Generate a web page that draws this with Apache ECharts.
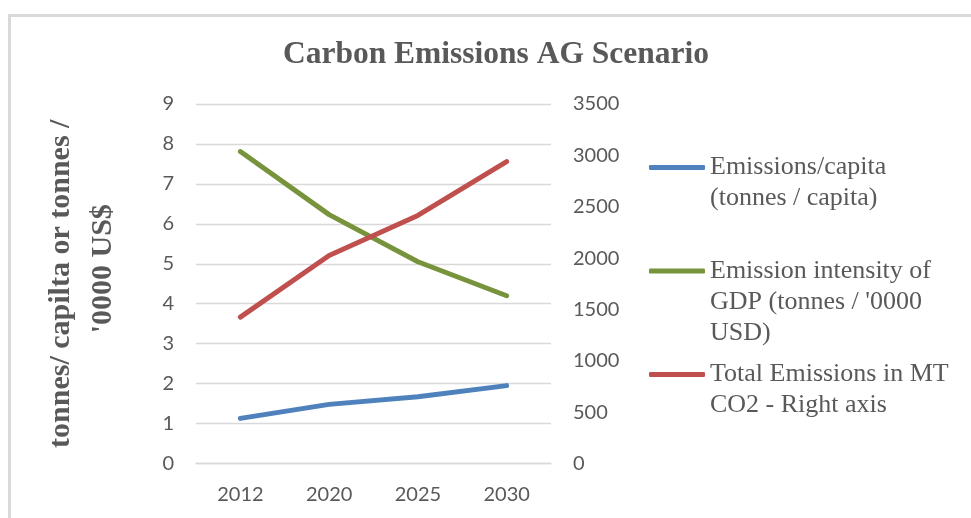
<!DOCTYPE html>
<html>
<head>
<meta charset="utf-8">
<title>Carbon Emissions AG Scenario</title>
<script src="https://cdn.jsdelivr.net/npm/echarts@6/dist/echarts.min.js"></script>
<style>
  html, body { margin: 0; padding: 0; background: #ffffff; }
  #chart { width: 971px; height: 518px; }
</style>
</head>
<body>
<div id="chart"></div>
<script>
// Scenario years
const years = ['2012', '2020', '2025', '2030'];

// Left axis series (tonnes)
const emissionsPerCapita = [1.13, 1.48, 1.67, 1.95];
const emissionIntensity = [7.81, 6.23, 5.05, 4.2];

// Right axis series (MT CO2)
const totalEmissions = [1425, 2025, 2415, 2940];

// Axis ranges
const leftTicks = { min: 0, max: 9, interval: 1 };
const rightTicks = { min: 0, max: 3500, interval: 500 };

const seriesNames = [
  'Emissions/capita\n(tonnes / capita)',
  'Emission intensity of\nGDP (tonnes / \'0000\nUSD)',
  'Total Emissions in MT\nCO2 - Right axis'
];
const seriesColors = ['#4f81bd', '#77933c', '#c0504d'];

const serif = '"Liberation Serif", "Times New Roman", serif';
const sans = 'Lato, Carlito, Calibri, sans-serif';
const grey = '#595959';
const LH = 31;

// One legend block per series; an invisible spacer line on top keeps
// the icon level with the first line of a wrapped label
function legendFor(name, iconCenterY) {
  const lines = name.split('\n').length;
  const pad = (lines - 1) * LH;
  const blockH = pad + lines * LH;
  return {
    data: [name],
    left: 649,
    top: iconCenterY - blockH / 2,
    orient: 'vertical',
    padding: 0,
    icon: 'roundRect',
    itemWidth: 56,
    itemHeight: 5,
    selectedMode: false,
    formatter: function (n) {
      return '{sp| }\n' + n.split('\n').map(function (l) { return '{t|' + l + '}'; }).join('\n');
    },
    textStyle: {
      fontFamily: serif,
      fontSize: 26,
      color: grey,
      rich: {
        sp: { fontSize: 10, height: pad, lineHeight: pad },
        t: { fontFamily: serif, fontSize: 26, color: grey, lineHeight: LH, height: LH }
      }
    }
  };
}

function lineSeries(i, data, yAxisIndex) {
  return {
    name: seriesNames[i],
    type: 'line',
    yAxisIndex: yAxisIndex,
    data: data,
    symbol: 'none',
    smooth: false,
    lineStyle: { color: seriesColors[i], width: 5, cap: 'round', join: 'round' },
    itemStyle: { color: seriesColors[i] }
  };
}

const chart = echarts.init(document.getElementById('chart'), null, { renderer: 'canvas' });

chart.setOption({
  backgroundColor: '#ffffff',
  animation: false,
  graphic: [{
    type: 'rect',
    shape: { x: 9.5, y: 15.5, width: 1100, height: 1100 },
    style: { fill: 'none', stroke: '#d9d9d9', lineWidth: 3 },
    silent: true,
    z: -10
  }],
  title: {
    text: 'Carbon Emissions AG Scenario',
    left: 496,
    textAlign: 'center',
    top: 39,
    padding: 0,
    textStyle: {
      fontFamily: serif,
      fontSize: 31.5,
      fontWeight: 'bold',
      color: grey
    }
  },
  legend: [
    legendFor(seriesNames[0], 167.5),
    legendFor(seriesNames[1], 271),
    legendFor(seriesNames[2], 374.5)
  ],
  grid: {
    left: 196,
    right: 420,
    top: 104,
    bottom: 54.5,
    containLabel: false
  },
  xAxis: {
    type: 'category',
    data: years,
    boundaryGap: true,
    axisLine: { show: true, lineStyle: { color: '#d9d9d9', width: 1.3 } },
    axisTick: { show: false },
    axisLabel: {
      margin: 21,
      fontFamily: sans,
      fontSize: 20,
      color: grey
    }
  },
  yAxis: [
    {
      type: 'value',
      position: 'left',
      min: leftTicks.min,
      max: leftTicks.max,
      interval: leftTicks.interval,
      name: 'tonnes/ capilta or tonnes /\n\u00a0\u00a0\u00a0\u00a0\'0000 US$',
      nameLocation: 'middle',
      nameRotate: 90,
      nameGap: 72,
      nameTextStyle: {
        fontFamily: serif,
        fontSize: 30,
        fontWeight: 'bold',
        color: grey,
        lineHeight: 42,
        align: 'center'
      },
      axisLine: { show: false },
      axisTick: { show: false },
      splitLine: { show: true, lineStyle: { color: '#d9d9d9', width: 1.3 } },
      axisLabel: {
        margin: 22,
        fontFamily: sans,
        fontSize: 20,
        color: grey
      }
    },
    {
      type: 'value',
      position: 'right',
      min: rightTicks.min,
      max: rightTicks.max,
      interval: rightTicks.interval,
      axisLine: { show: false },
      axisTick: { show: false },
      splitLine: { show: false },
      axisLabel: {
        margin: 22,
        fontFamily: sans,
        fontSize: 20,
        color: grey,
        formatter: function (v) { return String(v); }
      }
    }
  ],
  series: [
    lineSeries(0, emissionsPerCapita, 0),
    lineSeries(1, emissionIntensity, 0),
    lineSeries(2, totalEmissions, 1)
  ]
});
</script>
</body>
</html>
